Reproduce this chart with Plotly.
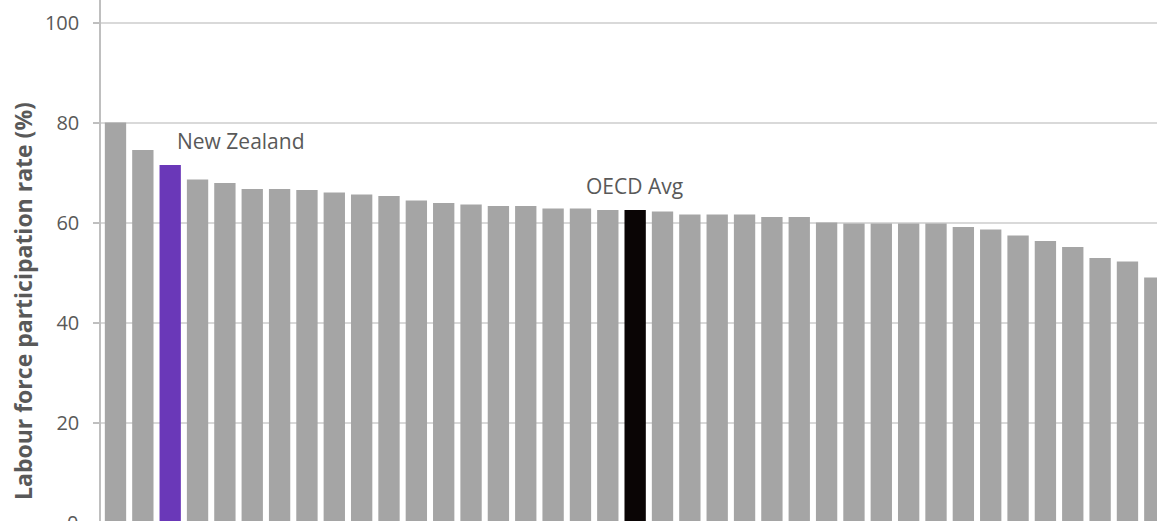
import plotly.graph_objects as go

# Data
countries = [f"C{i+1}" for i in range(39)]
countries[2] = "New Zealand"
countries[19] = "OECD Avg"
values = [80.0, 74.5, 71.5, 68.6, 67.9, 66.7, 66.7, 66.5, 66.0, 65.6,
          65.3, 64.4, 63.9, 63.6, 63.3, 63.3, 62.8, 62.8, 62.5, 62.5,
          62.2, 61.6, 61.6, 61.6, 61.1, 61.1, 60.0, 59.8, 59.8, 59.8,
          59.8, 59.1, 58.6, 57.4, 56.3, 55.1, 52.9, 52.2, 49.0]
y_ticks = [0, 20, 40, 60, 80, 100]

GREY = "#a5a5a5"
NZ = "#6a38b8"
OECD = "#0a0505"
colors = [NZ if c == "New Zealand" else OECD if c == "OECD Avg" else GREY for c in countries]
x_idx = list(range(len(countries)))

fig = go.Figure(go.Bar(x=x_idx, y=values, marker=dict(color=colors, line=dict(width=0)),
                       width=0.78, hoverinfo="y"))

FONT = "Open Sans"
TXT = "#595959"

fig.update_layout(
    width=1157, height=521,
    margin=dict(l=101, r=0, t=0, b=0),
    paper_bgcolor="white", plot_bgcolor="white",
    showlegend=False,
    font=dict(family=FONT, size=20, color=TXT),
    xaxis=dict(range=[-0.53, 38.08], showticklabels=False, showgrid=False,
               zeroline=False, showline=False, ticks=""),
    yaxis=dict(range=[0.3, 104.5], tickvals=y_ticks, showgrid=True,
               gridcolor="#d9d9d9", gridwidth=1.5, zeroline=False,
               showline=True, linecolor="#bfbfbf", linewidth=1.5,
               ticks="outside", ticklen=6, tickcolor="#bfbfbf", tickwidth=1.5,
               tickfont=dict(family=FONT, size=20, color=TXT),
               ticklabelstandoff=10),
)

ny = countries.index("New Zealand")
oe = countries.index("OECD Avg")
fig.add_annotation(x=ny + 0.18, y=values[ny] + 4.8, text="New Zealand", showarrow=False,
                   xanchor="left", yanchor="middle",
                   font=dict(family=FONT, size=21, color=TXT))
fig.add_annotation(x=oe - 0.04, y=values[oe] + 4.8, text="OECD Avg", showarrow=False,
                   xanchor="center", yanchor="middle",
                   font=dict(family=FONT, size=21, color=TXT))
# partially visible zero tick label (value 0 sits just below the window edge)
fig.add_annotation(xref="paper", yref="paper", x=-0.0199, y=-1.5 / 521, text="0",
                   showarrow=False, xanchor="right", yanchor="middle",
                   font=dict(family=FONT, size=20, color=TXT))
# y-axis title
fig.add_annotation(xref="paper", x=(23 - 101) / 1056, y=44.3,
                   text="<b>Labour force participation rate (%)</b>", showarrow=False,
                   textangle=-90, xanchor="center", yanchor="middle",
                   font=dict(family=FONT, size=23, color=TXT))

fig.write_html("out.html")
